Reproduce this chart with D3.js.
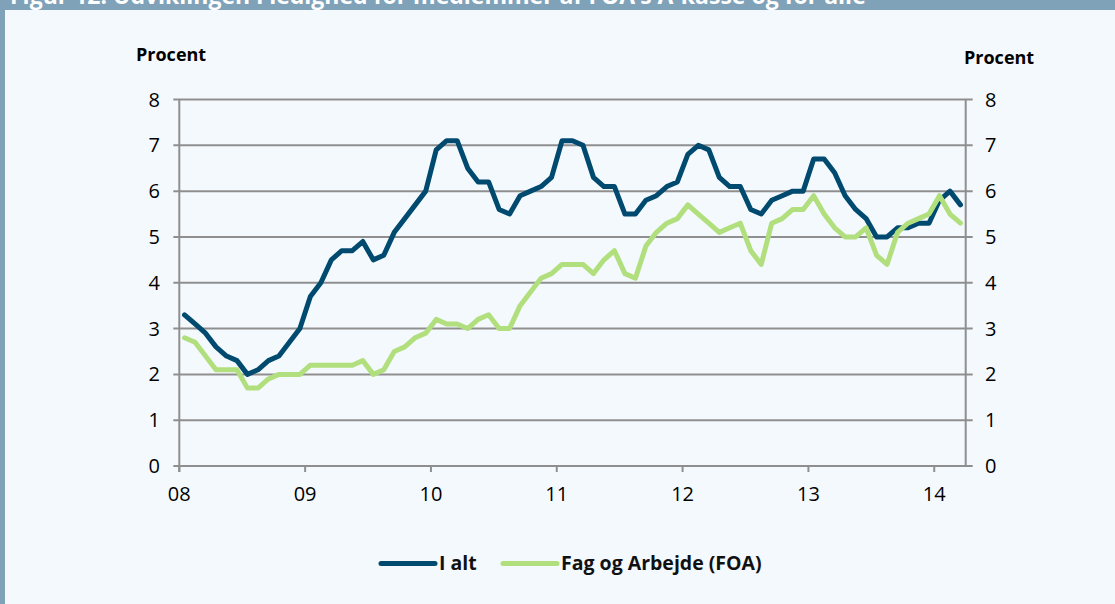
<!DOCTYPE html>
<html>
<head>
<meta charset="utf-8">
<script src="https://cdn.jsdelivr.net/npm/d3@7"></script>
<style>
  html, body { margin: 0; padding: 0; background: #f4f9fd; }
  svg { display: block; font-family: "Open Sans", "Noto Sans", sans-serif; }
</style>
</head>
<body>
<div id="chart"></div>
<script>
// Category axis: monthly, Jan 2008 - Mar 2014
const years = ['08', '09', '10', '11', '12', '13', '14'];
const monthCount = 75;

// Ledighed i procent
const iAlt = [
  3.3, 3.1, 2.9, 2.6, 2.4, 2.3, 2.0, 2.1, 2.3, 2.4, 2.7, 3.0,
  3.7, 4.0, 4.5, 4.7, 4.7, 4.9, 4.5, 4.6, 5.1, 5.4, 5.7, 6.0,
  6.9, 7.1, 7.1, 6.5, 6.2, 6.2, 5.6, 5.5, 5.9, 6.0, 6.1, 6.3,
  7.1, 7.1, 7.0, 6.3, 6.1, 6.1, 5.5, 5.5, 5.8, 5.9, 6.1, 6.2,
  6.8, 7.0, 6.9, 6.3, 6.1, 6.1, 5.6, 5.5, 5.8, 5.9, 6.0, 6.0,
  6.7, 6.7, 6.4, 5.9, 5.6, 5.4, 5.0, 5.0, 5.2, 5.2, 5.3, 5.3,
  5.8, 6.0, 5.7
];
const foa = [
  2.8, 2.7, 2.4, 2.1, 2.1, 2.1, 1.7, 1.7, 1.9, 2.0, 2.0, 2.0,
  2.2, 2.2, 2.2, 2.2, 2.2, 2.3, 2.0, 2.1, 2.5, 2.6, 2.8, 2.9,
  3.2, 3.1, 3.1, 3.0, 3.2, 3.3, 3.0, 3.0, 3.5, 3.8, 4.1, 4.2,
  4.4, 4.4, 4.4, 4.2, 4.5, 4.7, 4.2, 4.1, 4.8, 5.1, 5.3, 5.4,
  5.7, 5.5, 5.3, 5.1, 5.2, 5.3, 4.7, 4.4, 5.3, 5.4, 5.6, 5.6,
  5.9, 5.5, 5.2, 5.0, 5.0, 5.2, 4.6, 4.4, 5.1, 5.3, 5.4, 5.5,
  5.9, 5.5, 5.3
];
const yTicks = [0, 1, 2, 3, 4, 5, 6, 7, 8];

const width = 1115, height = 604;
const plotLeft = 179.3, plotRight = 965.7, plotTop = 99.5, plotBottom = 466;
const navy = '#004a6f', green = '#b2df7e', grid = '#8f8f8f';

const svg = d3.select('#chart').append('svg')
  .attr('width', width)
  .attr('height', height);

// Frame: header bar (title runs off the top) and left strip
svg.append('rect').attr('x', 0).attr('y', 0).attr('width', width).attr('height', 10).attr('fill', '#7fa2b9');
svg.append('rect').attr('x', 0).attr('y', 0).attr('width', 5).attr('height', height).attr('fill', '#7fa2b9');
svg.append('text')
  .attr('x', 10).attr('y', 4)
  .attr('font-size', 23).attr('font-weight', 700)
  .attr('fill', '#fff')
  .text('Figur 12. Udviklingen i ledighed for medlemmer af FOA\u2019s A-kasse og for alle');
svg.append('rect').attr('x', 5).attr('y', 10).attr('width', width - 5).attr('height', height - 10).attr('fill', '#f4f9fd');

const x = d3.scaleLinear().domain([0, monthCount]).range([plotLeft, plotRight]);
const y = d3.scaleLinear().domain([0, 8]).range([plotBottom, plotTop]);

// Gridlines (extend past both axes as tick marks)
svg.append('g').selectAll('line')
  .data(yTicks)
  .join('line')
  .attr('x1', plotLeft - 6).attr('x2', plotRight + 7)
  .attr('y1', d => y(d)).attr('y2', d => y(d))
  .attr('stroke', grid).attr('stroke-width', 2);

// Vertical axes
svg.append('line').attr('x1', plotLeft).attr('x2', plotLeft).attr('y1', plotTop).attr('y2', plotBottom + 6)
  .attr('stroke', grid).attr('stroke-width', 2);
svg.append('line').attr('x1', plotRight).attr('x2', plotRight).attr('y1', plotTop).attr('y2', plotBottom)
  .attr('stroke', grid).attr('stroke-width', 2);

// Year ticks on x axis
svg.append('g').selectAll('line')
  .data(years)
  .join('line')
  .attr('x1', (d, i) => x(i * 12)).attr('x2', (d, i) => x(i * 12))
  .attr('y1', plotBottom).attr('y2', plotBottom + 6)
  .attr('stroke', grid).attr('stroke-width', 2);

// Tick labels
const tickFont = 20;
svg.append('g').selectAll('text')
  .data(yTicks)
  .join('text')
  .attr('x', 160).attr('y', d => y(d) + 7)
  .attr('text-anchor', 'end')
  .attr('font-size', tickFont).attr('fill', '#000')
  .text(d => d);
svg.append('g').selectAll('text')
  .data(yTicks)
  .join('text')
  .attr('x', 985).attr('y', d => y(d) + 7)
  .attr('font-size', tickFont).attr('fill', '#000')
  .text(d => d);
svg.append('g').selectAll('text')
  .data(years)
  .join('text')
  .attr('x', (d, i) => x(i * 12)).attr('y', 501)
  .attr('text-anchor', 'middle')
  .attr('font-size', tickFont).attr('fill', '#000')
  .text(d => d);

// Axis titles
svg.append('text').attr('x', 136).attr('y', 61).attr('font-size', 18).attr('font-weight', 700).text('Procent');
svg.append('text').attr('x', 964).attr('y', 64).attr('font-size', 18).attr('font-weight', 700).text('Procent');

// Lines
const line = d3.line()
  .x((d, i) => x(i + 0.5))
  .y(d => y(d))
  .curve(d3.curveLinear);

svg.append('path')
  .datum(iAlt)
  .attr('d', line)
  .attr('fill', 'none')
  .attr('stroke', navy).attr('stroke-width', 5)
  .attr('stroke-linejoin', 'round').attr('stroke-linecap', 'round');

svg.append('path')
  .datum(foa)
  .attr('d', line)
  .attr('fill', 'none')
  .attr('stroke', green).attr('stroke-width', 5)
  .attr('stroke-linejoin', 'round').attr('stroke-linecap', 'round');

// Legend
const legend = [
  { name: 'I alt', color: navy, x: 381 },
  { name: 'Fag og Arbejde (FOA)', color: green, x: 503 }
];
const lg = svg.append('g').selectAll('g').data(legend).join('g');
lg.append('line')
  .attr('x1', d => d.x).attr('x2', d => d.x + 54)
  .attr('y1', 563.5).attr('y2', 563.5)
  .attr('stroke', d => d.color).attr('stroke-width', 5)
  .attr('stroke-linecap', 'round');
lg.append('text')
  .attr('x', d => d.x + 58).attr('y', 570)
  .attr('font-size', 19.5).attr('font-weight', 700).attr('fill', '#111')
  .text(d => d.name);
</script>
</body>
</html>
